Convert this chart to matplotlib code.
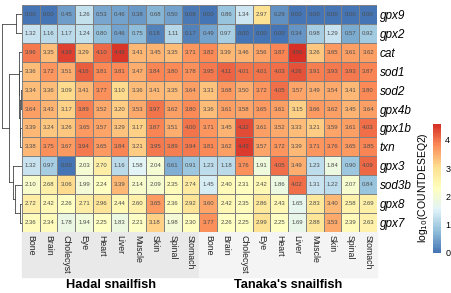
import numpy as np
import matplotlib
matplotlib.use("Agg")
import matplotlib.pyplot as plt
from matplotlib.colors import LinearSegmentedColormap
from matplotlib.patches import Rectangle
from matplotlib.cm import ScalarMappable
from matplotlib.colors import Normalize

plt.rcParams['font.family'] = ['Liberation Sans', 'DejaVu Sans']

genes = ['gpx9', 'gpx2', 'cat', 'sod1', 'sod2', 'gpx4b', 'gpx1b', 'txn',
         'gpx3', 'sod3b', 'gpx8', 'gpx7']
tissues = ['Bone', 'Brain', 'Cholecyst', 'Eye', 'Heart', 'Liver', 'Muscle',
           'Skin', 'Spinal', 'Stomach']
groups = ['Hadal snailfish', "Tanaka's snailfish"]

hadal = [
    [0.00, 0.00, 0.45, 1.26, 0.53, 0.46, 0.38, 0.68, 0.50, 0.08],
    [1.32, 1.16, 1.17, 1.24, 0.80, 0.46, 0.75, 0.18, 1.11, 0.17],
    [3.96, 3.35, 4.39, 3.29, 4.10, 4.49, 3.41, 3.45, 3.35, 3.71],
    [3.36, 3.72, 3.51, 4.16, 3.81, 3.81, 3.47, 3.84, 3.80, 3.78],
    [3.34, 3.36, 3.09, 3.41, 3.77, 3.10, 3.36, 3.41, 3.35, 3.64],
    [3.64, 3.43, 3.17, 3.89, 3.52, 3.20, 3.53, 3.97, 3.62, 3.80],
    [3.39, 3.24, 3.26, 3.65, 3.57, 3.29, 3.17, 3.87, 3.51, 4.00],
    [3.38, 3.75, 3.67, 3.94, 3.65, 3.84, 3.21, 3.95, 3.89, 3.94],
    [1.32, 0.97, 0.00, 2.03, 2.70, 1.16, 1.58, 2.04, 0.61, 0.91],
    [2.10, 2.68, 3.06, 1.99, 2.24, 3.39, 2.14, 2.09, 2.35, 2.74],
    [2.72, 2.42, 2.26, 2.71, 2.96, 2.44, 2.60, 3.65, 2.36, 2.92],
    [2.36, 2.34, 1.78, 1.94, 2.25, 1.83, 2.21, 3.18, 1.98, 2.30],
]
tanaka = [
    [0.00, 0.86, 1.34, 2.97, 0.29, 0.00, 0.00, 0.00, 0.00, 0.00],
    [0.49, 0.97, 0.00, 0.00, 0.00, 0.34, 0.98, 1.29, 0.57, 0.92],
    [3.82, 3.39, 3.46, 3.56, 3.87, 4.56, 3.26, 3.65, 3.61, 3.62],
    [3.95, 4.11, 4.01, 4.01, 4.03, 4.26, 3.91, 3.93, 3.93, 3.87],
    [3.31, 3.68, 3.50, 3.72, 4.05, 3.57, 3.49, 3.54, 3.41, 3.80],
    [3.36, 3.61, 3.58, 3.65, 3.61, 3.15, 3.66, 3.62, 3.45, 3.64],
    [3.71, 3.45, 4.32, 3.61, 3.52, 3.33, 3.21, 3.59, 3.61, 4.03],
    [3.81, 3.62, 4.43, 3.57, 3.72, 3.39, 3.71, 3.76, 3.65, 3.85],
    [1.23, 1.18, 3.76, 1.91, 4.05, 3.49, 1.23, 1.84, 0.90, 4.09],
    [1.45, 2.40, 2.31, 2.42, 1.86, 4.02, 1.31, 1.22, 2.07, 0.84],
    [3.60, 2.42, 2.35, 2.86, 2.43, 1.65, 2.83, 3.40, 2.58, 2.69],
    [3.77, 2.26, 2.25, 2.99, 2.25, 1.69, 2.88, 3.53, 2.39, 2.63],
]

# pheatmap default palette
cmap = LinearSegmentedColormap.from_list(
    'ph', ['#4575B4', '#91BFDB', '#E0F3F8', '#FFFFBF', '#FEE090', '#FC8D59', '#D73027'], N=100)

W, H = 452, 293
fig = plt.figure(figsize=(W / 100, H / 100), dpi=100)


def ax_px(x0, y0, x1, y1):
    return fig.add_axes([x0 / W, 1 - y1 / H, (x1 - x0) / W, (y1 - y0) / H])


data = np.hstack([np.array(hadal), np.array(tanaka)])
nrow, ncol = data.shape
vmax = data.max()

# heatmap
ax = ax_px(22, 5, 377, 232)
ax.pcolormesh(data, cmap=cmap, vmin=0, vmax=vmax, edgecolors='#808080', linewidth=0.5)
for i in range(nrow):
    for j in range(ncol):
        ax.text(j + 0.5, i + 0.5, '%.2f' % data[i, j], ha='center', va='center',
                fontsize=4.3, color='#4d4d4d')
ax.set_xlim(0, ncol)
ax.set_ylim(nrow, 0)
ax.set_xticks(np.arange(ncol) + 0.5)
ax.set_xticklabels(tissues * 2, rotation=-90, fontsize=6.3, color='#222222')
ax.set_yticks(np.arange(nrow) + 0.5)
ax.set_yticklabels(genes, fontsize=8.5, style='italic')
ax.yaxis.tick_right()
ax.tick_params(length=0, pad=2)
for s in ax.spines.values():
    s.set_visible(False)

# grey bands behind the column labels
fig.patches.append(Rectangle((22 / W, 1 - 277 / H), 177.5 / W, 45 / H,
                             transform=fig.transFigure, color='#e9e9e9', zorder=-1))
fig.patches.append(Rectangle((199.5 / W, 1 - 277 / H), 177.5 / W, 45 / H,
                             transform=fig.transFigure, color='#f4f4f4', zorder=-1))
fig.text(111 / W, 1 - 285.5 / H, groups[0], ha='center', va='center', fontsize=9.2, weight='bold')
fig.text(288 / W, 1 - 285.5 / H, groups[1], ha='center', va='center', fontsize=9.2, weight='bold')

# row dendrogram (complete linkage, euclidean)
D = np.sqrt(((data[:, None, :] - data[None, :, :]) ** 2).sum(-1))
members = {i: [i] for i in range(nrow)}
pos = {i: (i + 0.5, 0.0) for i in range(nrow)}
active = list(range(nrow))
nid = nrow
segs = []
while len(active) > 1:
    best = None
    for a in active:
        for b in active:
            if a < b:
                d = max(D[p, q] for p in members[a] for q in members[b])
                if best is None or d < best[0]:
                    best = (d, a, b)
    d, a, b = best
    (ya, ha), (yb, hb) = pos[a], pos[b]
    segs += [([ha, d], [ya, ya]), ([hb, d], [yb, yb]), ([d, d], [ya, yb])]
    members[nid] = members[a] + members[b]
    pos[nid] = ((ya + yb) / 2, d)
    active = [k for k in active if k not in (a, b)] + [nid]
    nid += 1

axd = ax_px(1, 5, 22, 232)
for xs, ys in segs:
    axd.plot(xs, ys, color='#444444', lw=0.6)
axd.set_xlim(pos[nid - 1][1] * 1.04, 0)
axd.set_ylim(nrow, 0)
axd.axis('off')

# colorbar
axc = ax_px(433, 124, 441, 253)
cb = fig.colorbar(ScalarMappable(norm=Normalize(0, vmax), cmap=cmap), cax=axc, ticks=[0, 1, 2, 3, 4])
cb.outline.set_visible(False)
axc.tick_params(length=0, labelsize=6.5, pad=3)
fig.text(423 / W, 1 - 188 / H, r'log$_{10}$(COUNTDESEQ2)', rotation=90, ha='center', va='center',
         fontsize=7.5)

fig.savefig('out.png', dpi=100)
